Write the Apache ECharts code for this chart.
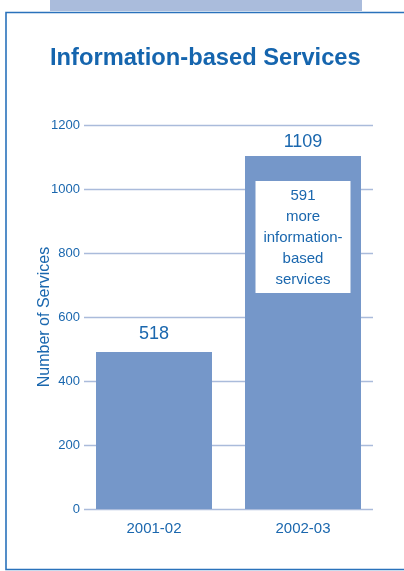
<!DOCTYPE html>
<html>
<head>
<meta charset="utf-8">
<script src="https://cdn.jsdelivr.net/npm/echarts@6/dist/echarts.min.js"></script>
<style>
html,body{margin:0;padding:0;background:#fff;}
#chart{width:404px;height:571px;}
</style>
</head>
<body>
<div id="chart"></div>
<script>
var categories = ['2001-02', '2002-03'];
var barValues = [491, 1103];
var valueLabels = ['518', '1109'];
var annotationLines = ['591', 'more', 'information-', 'based', 'services'];
var yTicks = [0, 200, 400, 600, 800, 1000, 1200];

var blue = '#1a67ae';
var barColor = '#7597c9';
var gridColor = '#aabbdb';
var font = 'Liberation Sans, Arial, Helvetica, sans-serif';

var chart = echarts.init(document.getElementById('chart'), null, {renderer: 'canvas'});
chart.setOption({
  backgroundColor: '#fff',
  animation: false,
  textStyle: {fontFamily: font},
  title: {
    text: 'Information-based Services',
    left: 50,
    top: 46,
    padding: 0,
    textStyle: {color: '#1565ae', fontSize: 23.7, fontWeight: 'bold', fontFamily: font}
  },
  graphic: [
    {type: 'rect', shape: {x: 50, y: 0, width: 312, height: 11}, style: {fill: '#aabcdc'}, silent: true},
    {type: 'polyline', shape: {points: [[410, 12.5], [6, 12.5], [6, 569.5], [410, 569.5]]},
     style: {stroke: '#2a72bb', lineWidth: 1.6, fill: null}, silent: true}
  ],
  grid: [
    {left: 84, right: 31, top: 125, bottom: 62},
    {left: 79.5, right: 26.5, top: 125, bottom: 62}
  ],
  xAxis: [
    {type: 'category', gridIndex: 0, data: categories, show: false},
    {type: 'category', gridIndex: 1, data: categories,
     axisLine: {show: false}, axisTick: {show: false},
     axisLabel: {color: blue, fontSize: 15, margin: 12, fontFamily: font}}
  ],
  yAxis: [
    {type: 'value', gridIndex: 0, min: yTicks[0], max: yTicks[yTicks.length - 1], interval: 200,
     axisLine: {show: false}, axisTick: {show: false},
     axisLabel: {color: blue, fontSize: 13, margin: 4, fontFamily: font,
       formatter: function (v) { return String(v); }},
     splitLine: {lineStyle: {color: gridColor, width: 1.3}},
     name: 'Number of Services', nameLocation: 'middle', nameGap: 31, nameMoveOverlap: false,
     nameTextStyle: {color: blue, fontSize: 16, fontFamily: font}},
    {type: 'value', gridIndex: 1, min: yTicks[0], max: yTicks[yTicks.length - 1], interval: 200, show: false}
  ],
  series: [
    {type: 'bar', xAxisIndex: 1, yAxisIndex: 1, barWidth: 116, barGap: '-100%',
     itemStyle: {color: barColor},
     data: barValues.map(function (v, i) {
       return {value: v, label: {show: true, position: 'top', distance: i === 0 ? 9 : 5,
         formatter: valueLabels[i], color: blue, fontSize: 18, fontFamily: font}};
     })},
    {type: 'bar', xAxisIndex: 1, yAxisIndex: 1, barWidth: 116, barGap: '-100%',
     itemStyle: {color: 'rgba(0,0,0,0)'},
     data: barValues.map(function (v, i) {
       if (i === 0) return {value: v, label: {show: false}};
       return {value: v, label: {show: true, position: 'insideTop', distance: 25,
         formatter: annotationLines.join('\n'),
         backgroundColor: '#fff', width: 95, padding: [4, 0, 3, 0],
         lineHeight: 21, align: 'center',
         color: blue, fontSize: 15, fontFamily: font}};
     })}
  ]
});
</script>
</body>
</html>
